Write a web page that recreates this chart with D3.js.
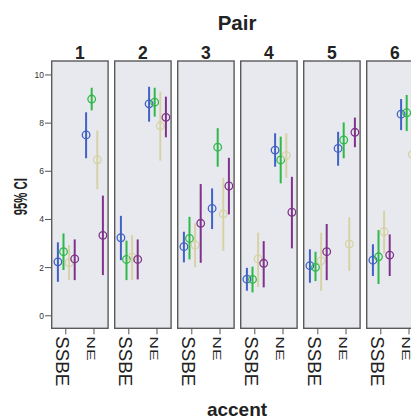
<!DOCTYPE html>
<html>
<head>
<meta charset="utf-8">
<script src="https://cdn.jsdelivr.net/npm/d3@7"></script>
<style>
  body { margin: 0; background: #fff; }
  svg { display: block; font-family: "Liberation Sans", Arial, sans-serif; }
</style>
</head>
<body>
<svg width="411" height="418"></svg>
<script>
// facets, categories and series
var pairs = ["1", "2", "3", "4", "5", "6"];
var accents = ["SSBE", "NE"];
var series = ["blue", "green", "beige", "purple"];
var colors = ["#4062c4", "#2eb848", "#d6d2a6", "#7e328a"];
var yTicks = [0, 2, 4, 6, 8, 10];

// values per (pair, accent): 1-SSBE, 1-NE, 2-SSBE, 2-NE, ...
var blueMean  = [2.24, 7.51, 3.24, 8.80, 2.87, 4.46, 1.52, 6.88, 2.08, 6.95, 2.31, 8.37];
var blueLow   = [1.41, 6.54, 2.31, 8.06, 2.22, 3.60, 1.04, 6.19, 1.37, 6.23, 1.65, 7.71];
var blueHigh  = [3.05, 8.45, 4.15, 9.51, 3.49, 5.29, 1.99, 7.58, 2.76, 7.64, 2.97, 9.00];

var greenMean = [2.66, 9.00, 2.34, 8.87, 3.21, 7.00, 1.51, 6.47, 2.01, 7.30, 2.45, 8.43];
var greenLow  = [1.90, 8.53, 1.48, 8.27, 2.34, 6.19, 0.97, 5.50, 1.44, 6.54, 1.32, 7.67];
var greenHigh = [3.42, 9.47, 3.12, 9.47, 4.11, 7.79, 2.04, 7.44, 2.66, 8.03, 3.56, 9.17];

var beigeMean = [2.20, 6.48, 2.43, 7.89, 2.94, 4.23, 2.36, 6.66, 2.28, 2.98, 3.49, 6.70];
var beigeLow  = [1.48, 5.26, 1.48, 6.44, 2.01, 2.69, 1.20, 5.73, 1.04, 1.87, 2.59, 5.60];
var beigeHigh = [2.94, 7.69, 3.35, 9.31, 3.84, 5.73, 3.45, 7.58, 3.45, 4.09, 4.36, 7.80];

var purpleMean = [2.36, 3.34, 2.34, 8.24, 3.84, 5.39, 2.18, 4.30, 2.66, 7.62, 2.52, 7.90];
var purpleLow  = [1.48, 1.69, 1.51, 7.41, 2.20, 4.21, 1.18, 2.80, 1.48, 7.00, 1.65, 7.00];
var purpleHigh = [3.17, 4.99, 3.17, 9.10, 5.47, 6.56, 3.10, 5.77, 3.81, 8.23, 3.38, 8.80];

var means = [blueMean, greenMean, beigeMean, purpleMean];
var lows = [blueLow, greenLow, beigeLow, purpleLow];
var highs = [blueHigh, greenHigh, beigeHigh, purpleHigh];

var svg = d3.select("svg");

var plotTop = 61, plotBottom = 328.3;

var fx = d3.scaleBand().domain(pairs).range([51.7, 423.1]).paddingInner(0.105).paddingOuter(0);
var pw = fx.bandwidth();
var x = d3.scalePoint().domain(accents).range([0, pw]).padding(0.5);
var dodge = d3.scaleBand().domain(series).range([-11.2, 11.2]);
var y = d3.scaleLinear().domain([-0.52, 10.58]).range([plotBottom, plotTop]);

// build flat list of marks
var marks = [];
pairs.forEach(function(p, pi) {
	accents.forEach(function(a, ai) {
		var k = pi * 2 + ai;
		series.forEach(function(s, si) {
			marks.push({pair: p, accent: a, s: s, color: colors[si],
				mean: means[si][k], lo: lows[si][k], hi: highs[si][k]});
		});
	});
});

// titles
svg.append("text")
	.attr("x", 237).attr("y", 30)
	.attr("text-anchor", "middle")
	.attr("font-size", 20.5).attr("font-weight", "bold")
	.attr("fill", "#222")
	.text("Pair");

svg.append("text")
	.attr("x", 237).attr("y", 415.5)
	.attr("text-anchor", "middle")
	.attr("font-size", 19).attr("font-weight", "bold")
	.attr("fill", "#222")
	.text("accent");

svg.append("text")
	.attr("transform", "translate(26.5,196.7) rotate(-90)")
	.attr("text-anchor", "middle")
	.attr("font-size", 18).attr("font-weight", "bold")
	.attr("textLength", 37).attr("lengthAdjust", "spacingAndGlyphs")
	.attr("fill", "#222")
	.text("95% CI");

// y axis ticks on the first panel
var yAxis = svg.append("g");
yAxis.selectAll("line")
	.data(yTicks)
	.enter().append("line")
	.attr("x1", 45).attr("x2", fx("1"))
	.attr("y1", function(d) { return y(d); })
	.attr("y2", function(d) { return y(d); })
	.attr("stroke", "#555").attr("stroke-width", 1);
yAxis.selectAll("text")
	.data(yTicks)
	.enter().append("text")
	.attr("x", 44)
	.attr("y", function(d) { return y(d); })
	.attr("dy", "0.35em")
	.attr("text-anchor", "end")
	.attr("font-size", 8.5)
	.attr("fill", "#333")
	.text(function(d) { return d; });

// panels
var panel = svg.selectAll("g.panel")
	.data(pairs)
	.enter().append("g")
	.attr("class", "panel")
	.attr("transform", function(d) { return "translate(" + fx(d) + ",0)"; });

panel.append("rect")
	.attr("x", 0).attr("y", plotTop)
	.attr("width", pw).attr("height", plotBottom - plotTop)
	.attr("fill", "#e8e9ef")
	.attr("stroke", "#5a5a5a").attr("stroke-width", 1.4);

panel.append("text")
	.attr("x", pw / 2).attr("y", 59)
	.attr("text-anchor", "middle")
	.attr("font-size", 17.5).attr("font-weight", "bold")
	.attr("fill", "#222")
	.text(function(d) { return d; });

// category ticks + labels
panel.selectAll("line.xt")
	.data(accents)
	.enter().append("line")
	.attr("class", "xt")
	.attr("x1", function(d) { return x(d); })
	.attr("x2", function(d) { return x(d); })
	.attr("y1", plotBottom).attr("y2", plotBottom + 6)
	.attr("stroke", "#555").attr("stroke-width", 1);

panel.selectAll("text.xl")
	.data(accents)
	.enter().append("text")
	.attr("class", "xl")
	.attr("transform", function(d) {
		var s = d == "NE" ? " scale(1,0.65)" : "";
		return "translate(" + (x(d) - 3) + "," + (plotBottom + 8) + ") rotate(90)" + s;
	})
	.attr("dy", "0.35em")
	.attr("font-size", function(d) { return d == "NE" ? 17.5 : 18.7; })
	.attr("fill", "#222")
	.text(function(d) { return d; });

// error bars
var mk = panel.selectAll("g.mark")
	.data(function(p) { return marks.filter(function(m) { return m.pair == p; }); })
	.enter().append("g")
	.attr("class", "mark")
	.attr("transform", function(d) {
		return "translate(" + (x(d.accent) + dodge(d.s) + dodge.bandwidth() / 2 + 0.5) + ",0)";
	});

mk.append("line")
	.attr("x1", 0).attr("x2", 0)
	.attr("y1", function(d) { return y(d.lo); })
	.attr("y2", function(d) { return y(d.hi); })
	.attr("stroke", function(d) { return d.color; })
	.attr("stroke-width", 2);

mk.append("circle")
	.attr("cx", 0)
	.attr("cy", function(d) { return y(d.mean); })
	.attr("r", 3.8)
	.attr("fill", "none")
	.attr("stroke", function(d) { return d.color; })
	.attr("stroke-width", 1.3);
</script>
</body>
</html>
